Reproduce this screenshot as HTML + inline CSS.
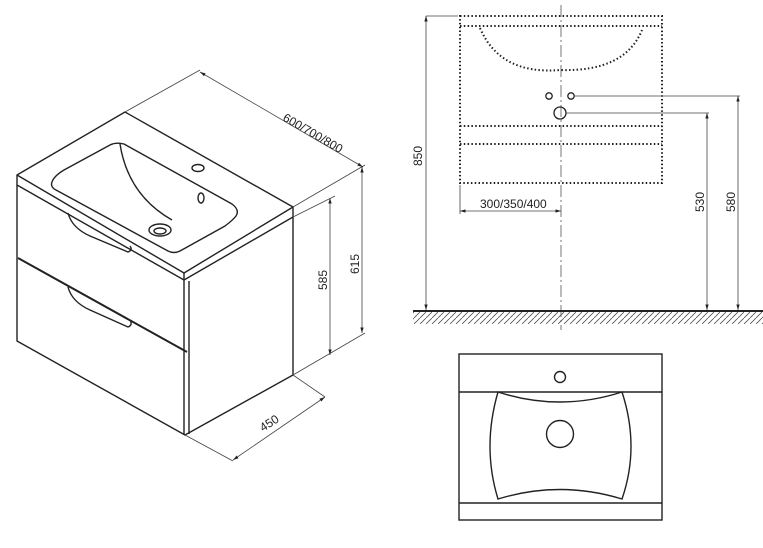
<!DOCTYPE html>
<html><head><meta charset="utf-8"><style>html,body{margin:0;padding:0;background:#fff}svg{display:block}</style></head>
<body>
<svg width="763" height="548" viewBox="0 0 763 548" xmlns="http://www.w3.org/2000/svg" font-family="Liberation Sans, sans-serif">
<defs>
<marker id="a" viewBox="0 0 10 10" refX="10" refY="5" markerWidth="7" markerHeight="7" orient="auto-start-reverse"><path d="M0,2 L10,5 L0,8 z" fill="#222"/></marker>
<pattern id="h" width="6" height="6" patternUnits="userSpaceOnUse"><path d="M0,6 L6,0" stroke="#555" stroke-width="0.8"/></pattern>
</defs>
<g fill="none" stroke="#222" stroke-width="1.4" stroke-linejoin="round">
<path d="M17,175 L125,112 L293,207 L184,273 Z"/>
<path d="M17,175 L17,185 L184,280 L293,217 L293,207"/>
<path d="M184,273 L184,280"/>
<path d="M17,185 L17,341 L185,435 L293,375 L293,217"/>
<path d="M184,280 L184,435 M189,281 L189,434"/>
<path d="M18,258 L187,352" stroke-width="2"/>
<path d="M52,182 Q54,176 64,170 L110,145 Q116,142 124,144 L232,204 Q240,210 236,216 Q233,220 225,226 L180,251 Q174,254 168,251 L56,190 Q50,187 52,182 Z"/>
<path d="M120,144 Q128,195 172,220"/>
<ellipse cx="160" cy="230" rx="11" ry="6"/><ellipse cx="160" cy="231" rx="6" ry="3"/>
<ellipse cx="198" cy="168" rx="6" ry="3.5"/><ellipse cx="201" cy="198" rx="3" ry="5"/>
<path d="M68,213 Q72,228 90,236 L128,252 Q133,250 130,246"/>
<path d="M68,287 Q72,302 90,310 L128,327 Q133,325 130,320"/>
</g>
<g fill="none" stroke="#444" stroke-width="0.8">
<path d="M125,112 L200,70 M293,207 L365,165"/>
<path d="M200,72 L363,167" marker-start="url(#a)" marker-end="url(#a)"/>
<path d="M293,217 L335,196 M293,375 L365,333 M293,375 L325,397 M185,435 L233,461"/>
<path d="M362,167 L362,333" marker-start="url(#a)" marker-end="url(#a)"/>
<path d="M330,198 L330,355" marker-start="url(#a)" marker-end="url(#a)"/>
<path d="M233,460 L325,397" marker-start="url(#a)" marker-end="url(#a)"/>
</g>
<g font-size="12" fill="#222">
<text transform="translate(282,120) rotate(30)">600/700/800</text>
<text transform="translate(359,274) rotate(-90)">615</text>
<text transform="translate(327,290) rotate(-90)">585</text>
<text transform="translate(263,432) rotate(-33)">450</text>
</g>
<g fill="none" stroke="#222" stroke-width="2" stroke-dasharray="1.5 2.3">
<rect x="460" y="16" width="202" height="167"/>
<path d="M460,26 L662,26 M460,126 L662,126 M460,144 L662,144"/>
<path d="M480,28 Q500,75 560,70 Q625,72 642,30"/>
</g>
<path d="M561,5 L561,330" stroke="#555" stroke-width="0.8" stroke-dasharray="12 3 2 3" fill="none"/>
<g fill="none" stroke="#222" stroke-width="1.3">
<circle cx="549" cy="96" r="3.2"/><circle cx="571" cy="96" r="3.2"/><circle cx="560" cy="113" r="6"/>
</g>
<g fill="none" stroke="#444" stroke-width="0.8">
<path d="M575,96 L740,96 M566,113 L709,113 M426,16 L458,16 M460,185 L460,214"/>
<path d="M738,96 L738,310" marker-start="url(#a)" marker-end="url(#a)"/>
<path d="M707,113 L707,310" marker-start="url(#a)" marker-end="url(#a)"/>
<path d="M426,16 L426,310" marker-start="url(#a)" marker-end="url(#a)"/>
<path d="M460,211 L561,211" marker-start="url(#a)" marker-end="url(#a)"/>
</g>
<rect x="413" y="312" width="350" height="12" fill="url(#h)"/>
<path d="M413,311 L763,311" stroke="#222" stroke-width="2"/>
<g font-size="12" fill="#222">
<text transform="translate(422,166) rotate(-90)">850</text>
<text transform="translate(704,212) rotate(-90)">530</text>
<text transform="translate(735,212) rotate(-90)">580</text>
<text x="480" y="208">300/350/400</text>
</g>
<g fill="none" stroke="#222" stroke-width="1.4">
<rect x="459" y="354" width="203" height="166"/>
<path d="M459,392 L662,392 M459,503 L662,503"/>
<path d="M498,392 Q560,412 622,392 Q640,447 622,499 Q560,480 498,499 Q482,447 498,392 Z"/>
<circle cx="560" cy="377" r="5.5"/><circle cx="560" cy="434" r="13.5"/>
</g>
</svg>
</body></html>
